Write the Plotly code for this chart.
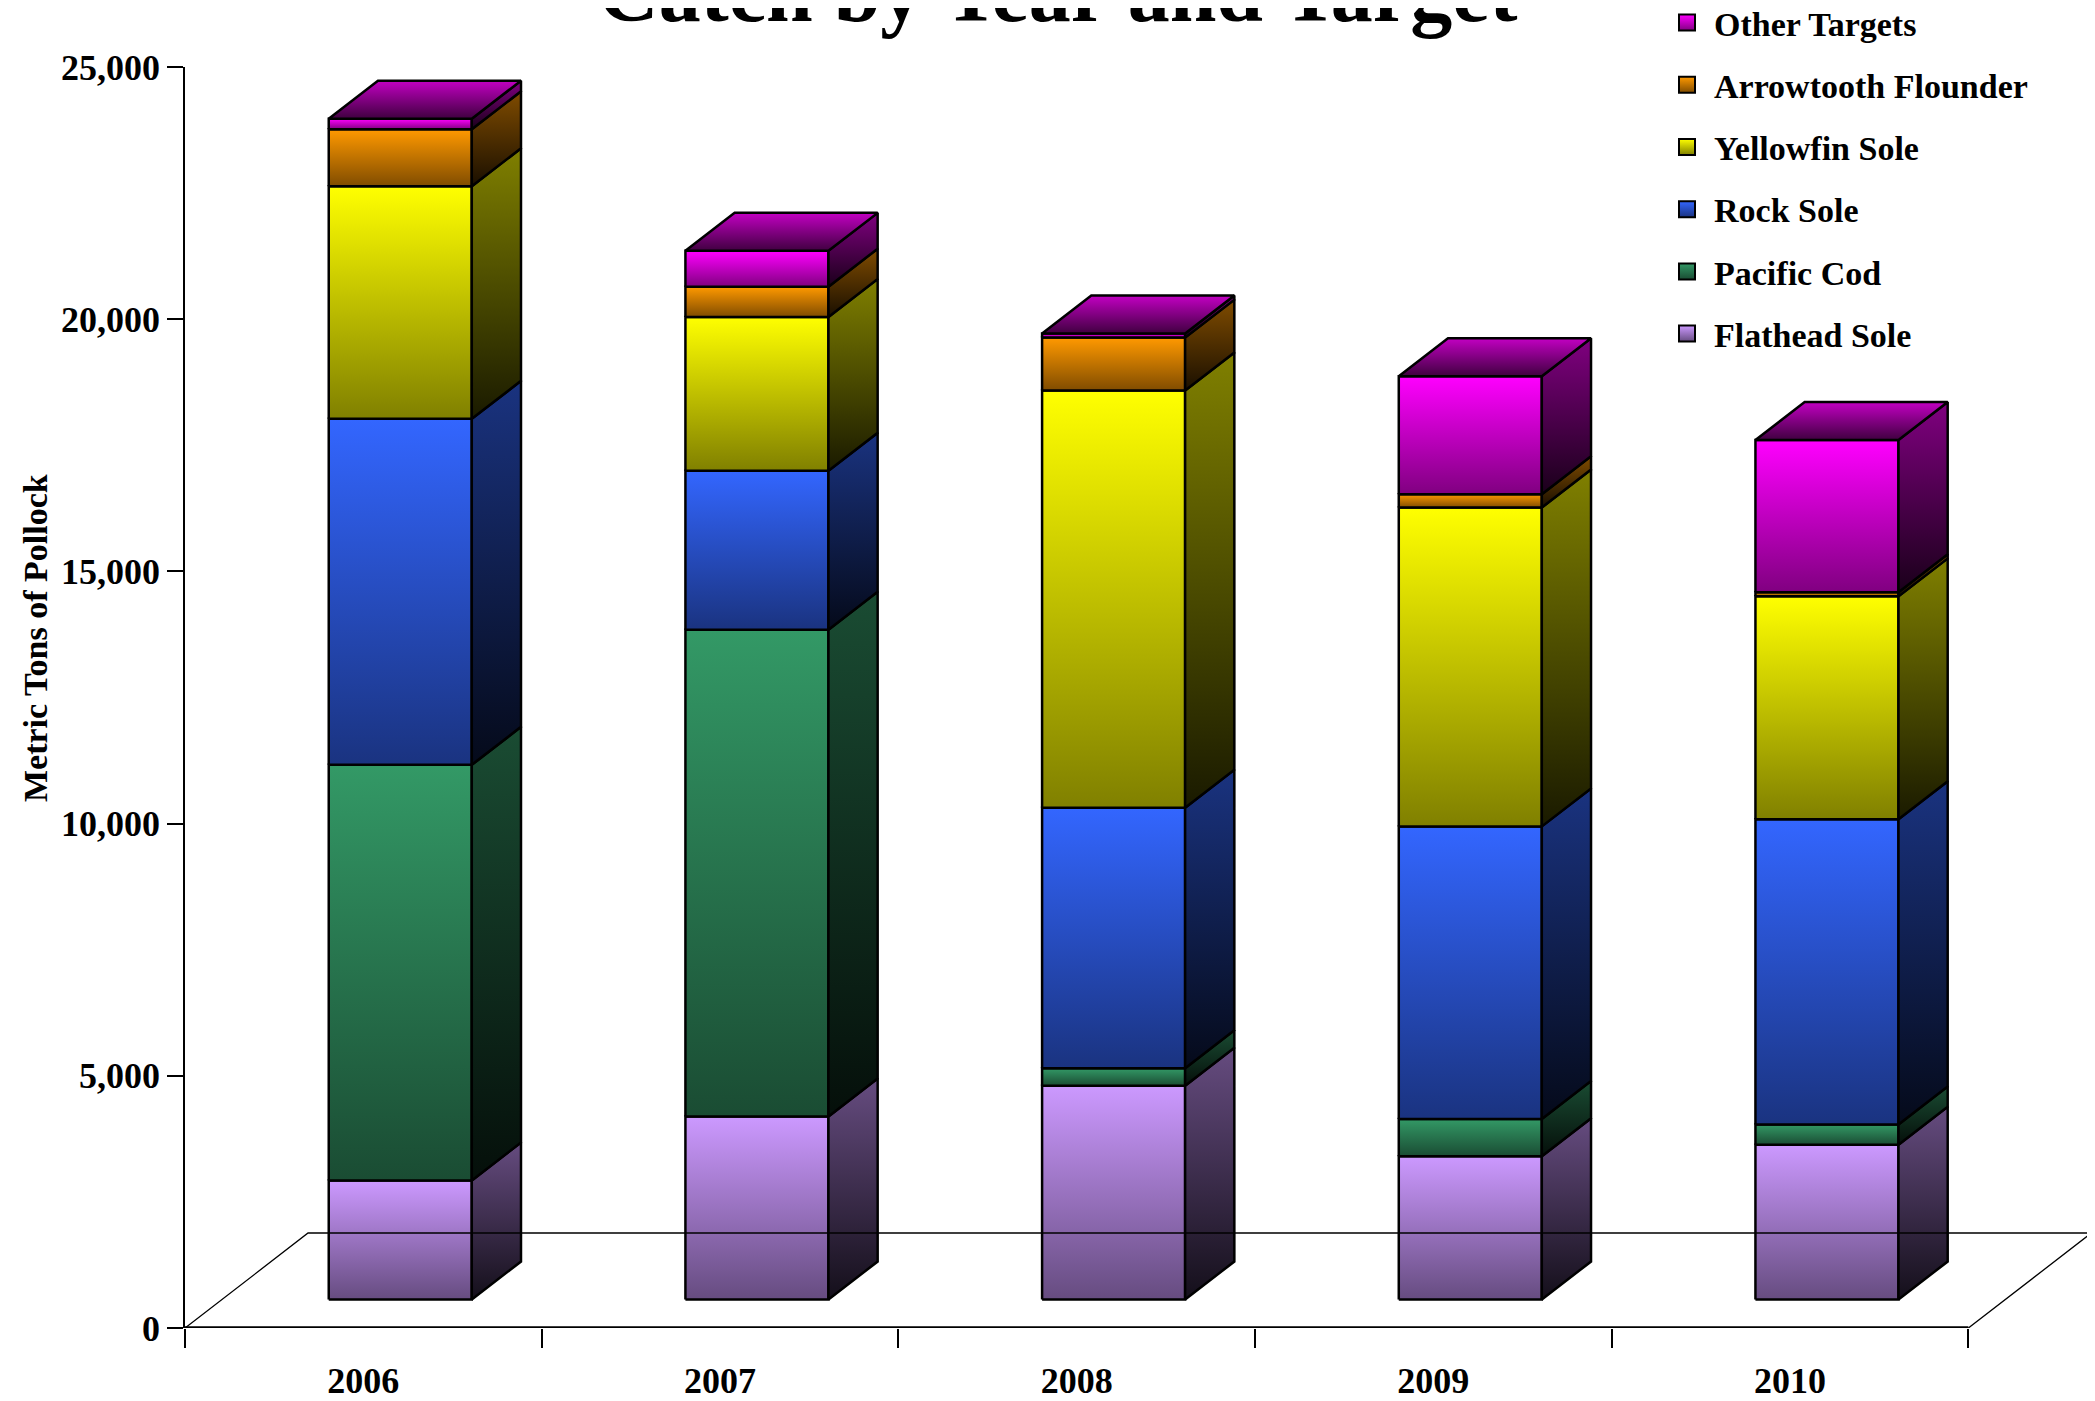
import plotly.graph_objects as go

# ---------------- data ----------------
years = ["2006", "2007", "2008", "2009", "2010"]
series_names = ["Flathead Sole", "Pacific Cod", "Rock Sole",
                "Yellowfin Sole", "Arrowtooth Flounder", "Other Targets"]
flathead = [2360, 3630, 4240, 2840, 3070]
pacific_cod = [8240, 9650, 345, 740, 400]
rock_sole = [6860, 3150, 5165, 5800, 6050]
yellowfin = [4610, 3050, 8270, 6320, 4420]
arrowtooth = [1130, 600, 1050, 265, 80]
other_targets = [210, 710, 80, 2340, 3020]
y_tick_values = [0, 5000, 10000, 15000, 20000, 25000]

series_values = [flathead, pacific_cod, rock_sole, yellowfin, arrowtooth, other_targets]
base_colors = [(204, 153, 255), (51, 153, 102), (51, 102, 255),
               (255, 255, 0), (255, 153, 0), (255, 0, 255)]

# ---------------- geometry / style ----------------
PAGE_W, PAGE_H = 2095, 1401
OFF = 8                       # default body margin of the html page
W, H = PAGE_W - OFF, PAGE_H - OFF
PLOT_L, PLOT_R, PLOT_T, PLOT_B = 185, 2095, 67, 1328   # page pixels
ML, MR = PLOT_L - OFF, W - (PLOT_R - OFF)
MT, MB = PLOT_T - OFF, H - (PLOT_B - OFF)
YMAX = 25000
DX = 0.345      # depth of the floor, in category units
DY = 1883       # depth of the floor, in value units
F1, F2 = 0.30, 0.70   # front / back depth fractions of bars
BW = 0.401      # bar width in category units
XR = [-0.5, 4.5 + DX + 0.01]
FONT = "Liberation Serif, Times New Roman, serif"
EDGE = 2.5

plot_w = PLOT_R - PLOT_L
plot_h = PLOT_B - PLOT_T


def px_to_paper_x(px):
    return (px - PLOT_L) / plot_w


def px_to_paper_y(py):
    return (PLOT_B - py) / plot_h


def shade(c, k):
    return "rgb(%d,%d,%d)" % tuple(int(round(v * k)) for v in c)


def face(xs, ys, top_col, bot_col):
    y0, y1 = min(ys), max(ys)
    if y1 - y0 < 1e-9:
        y1 = y0 + 1
    return go.Scatter(
        x=xs + [xs[0]], y=ys + [ys[0]], mode="lines", fill="toself",
        line=dict(color="black", width=EDGE),
        fillgradient=dict(type="vertical",
                          colorscale=[[0, bot_col], [1, top_col]],
                          start=y0, stop=y1),
        hoverinfo="skip", showlegend=False)


fig = go.Figure()

# floor
dxb, dyb = (F2 - F1) * DX, (F2 - F1) * DY
fig.add_trace(go.Scatter(
    x=[-0.5, -0.5 + DX, 4.5 + DX, 4.5], y=[0, DY, DY, 0], mode="lines",
    line=dict(color="black", width=1.3), hoverinfo="skip", showlegend=False,
    xaxis="x2"))
fig.add_trace(go.Scatter(
    x=[-0.5, 4.5], y=[0, 0], mode="lines",
    line=dict(color="black", width=3.5), hoverinfo="skip", showlegend=False,
    xaxis="x2"))

# bars
for i, yr in enumerate(years):
    xl = i - BW / 2 + F1 * DX
    xr = i + BW / 2 + F1 * DX
    base = F1 * DY
    cum = 0
    fronts, sides = [], []
    for s, vals in enumerate(series_values):
        lo = base + cum
        hi = base + cum + vals[i]
        cum += vals[i]
        c = base_colors[s]
        fronts.append(face([xl, xr, xr, xl], [lo, lo, hi, hi],
                           shade(c, 1.0), shade(c, 0.5)))
        sides.append(face([xr, xr + dxb, xr + dxb, xr],
                          [lo, lo + dyb, hi + dyb, hi],
                          shade(c, 0.5), shade(c, 0.1)))
    top = base + cum
    c = base_colors[-1]
    topface = face([xl, xr, xr + dxb, xl + dxb], [top, top, top + dyb, top + dyb],
                   shade(c, 0.76), shade(c, 0.25))
    for t in fronts + sides + [topface]:
        fig.add_trace(t)

# legend entries
for s in reversed(range(len(series_names))):
    c = base_colors[s]
    fig.add_trace(go.Scatter(
        x=[None], y=[None], mode="markers", name=series_names[s],
        legendgroup=series_names[s], xaxis="x2",
        marker=dict(symbol="square", size=18, color=shade(c, 1.0),
                    gradient=dict(type="vertical", color=shade(c, 0.5)),
                    line=dict(color="black", width=2))))

axis_font = dict(family=FONT, size=36, color="black", weight="bold")

fig.update_layout(
    width=W, height=H,
    margin=dict(l=ML, r=MR, t=MT, b=MB, autoexpand=False),
    paper_bgcolor="white", plot_bgcolor="white",
    showlegend=True,
    legend=dict(x=px_to_paper_x(1660), y=px_to_paper_y(-6),
                xanchor="left", yanchor="top", itemwidth=44,
                font=dict(family=FONT, size=34, color="black", weight="bold"),
                tracegroupgap=15, itemsizing="trace", bgcolor="rgba(0,0,0,0)"),
    xaxis=dict(range=XR, tickvals=[-0.5 + k for k in range(6)],
               ticks="outside", ticklen=19, tickwidth=1.5, tickcolor="black",
               showticklabels=False, showline=False, showgrid=False,
               zeroline=False, fixedrange=True),
    xaxis2=dict(range=XR, overlaying="x", anchor="y", side="bottom",
                tickvals=list(range(len(years))), ticktext=years, ticks="",
                showline=False, showgrid=False, zeroline=False,
                tickfont=axis_font, ticklabelstandoff=28, fixedrange=True),
    yaxis=dict(range=[0, YMAX], tickvals=y_tick_values, tickformat=",d",
               ticks="outside", ticklen=16, tickwidth=1.5, tickcolor="black",
               showline=True, linecolor="black", linewidth=1.5,
               showgrid=False, zeroline=False, tickfont=axis_font,
               fixedrange=True),
    annotations=[
        dict(text="Catch by Year and Target", xref="paper", yref="paper",
             x=px_to_paper_x(1057), y=px_to_paper_y(41),
             xanchor="center", yanchor="bottom", showarrow=False,
             font=dict(family=FONT, size=84, color="black", weight="bold")),
        dict(text="Metric Tons of Pollock", xref="paper", yref="paper",
             x=px_to_paper_x(36), y=px_to_paper_y(638), textangle=-90,
             xanchor="center", yanchor="middle", showarrow=False,
             font=dict(family=FONT, size=34, color="black", weight="bold")),
    ],
)

fig.write_html("out.html")
